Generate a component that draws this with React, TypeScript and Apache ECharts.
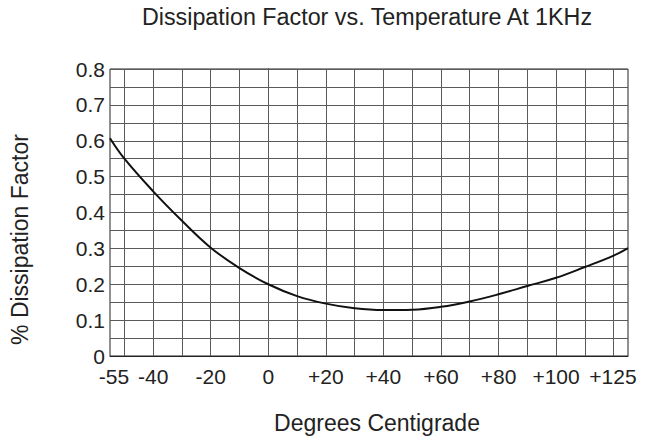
import React, { useEffect, useRef } from "react";
import * as echarts from "echarts";

const temperatures = [-55, -50, -40, -30, -20, -10, 0, 10, 20, 30, 40, 50, 60, 70, 80, 90, 100, 110, 120, 125];
const dissipation = [0.607, 0.55, 0.459, 0.377, 0.302, 0.245, 0.2, 0.167, 0.146, 0.133, 0.128, 0.129, 0.137, 0.152, 0.172, 0.195, 0.218, 0.248, 0.28, 0.301];
const xTickValues = [-55, -40, -20, 0, 20, 40, 60, 80, 100, 125];
const xGridValues = [-50, -40, -30, -20, -10, 0, 10, 20, 30, 40, 50, 60, 70, 80, 90, 100, 110, 120];

const FONT = "'Liberation Sans', Arial, sans-serif";
const GRID_COLOR = "#5a5a5a";
const TICK_SIZE = 21;

export default function App() {
  const ref = useRef<HTMLDivElement>(null);
  useEffect(() => {
    document.body.style.margin = "0";
    const chart = echarts.init(ref.current!, null, { renderer: "svg" });
    chart.setOption({
      animation: false,
      backgroundColor: "#ffffff",
      title: {
        text: "Dissipation Factor vs. Temperature At 1KHz",
        left: 362,
        textAlign: "center",
        top: 0,
        textStyle: { fontFamily: FONT, fontSize: 23.3, fontWeight: "normal", color: "#222" },
      },
      grid: {
        left: 104,
        top: 69,
        width: 524,
        height: 290,
        show: true,
        borderColor: "#222",
        borderWidth: 1,
        backgroundColor: "transparent",
      },
      xAxis: {
        type: "value",
        min: -55,
        max: 125,
        name: "Degrees Centigrade",
        nameLocation: "middle",
        nameGap: 55,
        nameTextStyle: { fontFamily: FONT, fontSize: 23, color: "#222", padding: [0, 0, 0, 16] },
        axisLine: { show: true, lineStyle: { color: "#222" } },
        axisTick: { show: false },
        splitLine: { show: false },
        axisLabel: {
          customValues: xTickValues,
          fontFamily: FONT,
          fontSize: TICK_SIZE,
          color: "#222",
          margin: 10,
          formatter: (v: number) => {
            const s = v > 0 ? "+" + v : String(v);
            if (v === -55) return "{l|" + s + "}";
            if (v === 125) return "{r|" + s + "}";
            return s;
          },
          rich: {
            l: { fontFamily: FONT, fontSize: TICK_SIZE, color: "#222", padding: [0, 0, 0, 8] },
            r: { fontFamily: FONT, fontSize: TICK_SIZE, color: "#222", padding: [0, 30, 0, 0] },
          },
        },
      },
      yAxis: {
        type: "value",
        min: 0,
        max: 0.8,
        interval: 0.1,
        name: "% Dissipation Factor",
        nameLocation: "middle",
        nameGap: 79,
        nameTextStyle: { fontFamily: FONT, fontSize: 23, color: "#222", padding: [0, 54, 0, 0] },
        axisLine: { show: true, lineStyle: { color: "#222" } },
        axisTick: { show: false },
        axisLabel: {
          fontFamily: FONT,
          fontSize: TICK_SIZE,
          color: "#222",
          margin: 5,
          formatter: (v: number) => (v === 0 ? "0" : v.toFixed(1)),
        },
        splitLine: { show: true, lineStyle: { color: GRID_COLOR, width: 1 } },
        minorTick: { show: false, splitNumber: 2 },
        minorSplitLine: { show: true, lineStyle: { color: GRID_COLOR, width: 1 } },
      },
      series: [
        {
          type: "line",
          data: temperatures.map((t, i) => [t, dissipation[i]]),
          smooth: 0.4,
          showSymbol: false,
          symbol: "none",
          lineStyle: { color: "#111", width: 2 },
          z: 5,
          markLine: {
            silent: true,
            symbol: "none",
            label: { show: false },
            lineStyle: { color: GRID_COLOR, type: "solid", width: 1 },
            data: xGridValues.map((v) => ({ xAxis: v })),
            z: 1,
          },
        },
      ],
    });
    return () => chart.dispose();
  }, []);
  return <div ref={ref} style={{ width: 646, height: 439 }} />;
}
